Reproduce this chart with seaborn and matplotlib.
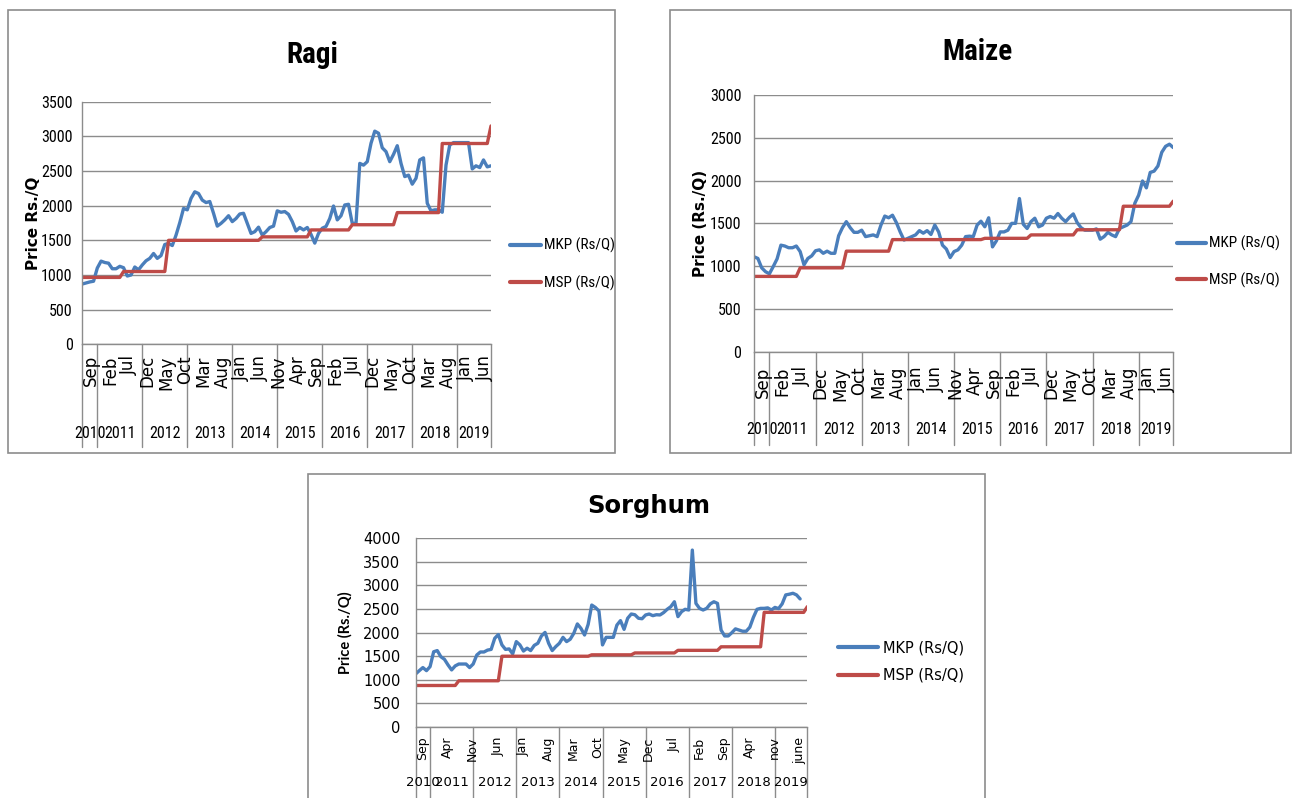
import matplotlib

matplotlib.use("Agg")
import matplotlib.pyplot as plt
import numpy as np
import pandas as pd
import seaborn as sns
from matplotlib.patches import Rectangle

# monthly series, Sep 2010 onwards (110 months)
months = pd.date_range("2010-09-01", periods=110, freq="MS")
years = ["2010", "2011", "2012", "2013", "2014", "2015", "2016", "2017", "2018", "2019"]
series_names = ["MKP (Rs/Q)", "MSP (Rs/Q)"]

ragi_mkp = [
    870, 885, 900, 910, 1100, 1200, 1180, 1170, 1090, 1090,
    1125, 1105, 985, 1000, 1115, 1075, 1145, 1205, 1240, 1310,
    1240, 1280, 1440, 1455, 1425, 1575, 1755, 1960, 1940, 2105,
    2200, 2175, 2080, 2045, 2060, 1890, 1705, 1745, 1795, 1855,
    1770, 1815, 1880, 1890, 1745, 1600, 1625, 1690, 1575, 1625,
    1685, 1705, 1925, 1905, 1915, 1875, 1770, 1635, 1685, 1650,
    1685, 1585, 1460, 1600, 1675, 1700, 1815, 1995, 1795, 1855,
    2010, 2020, 1745, 1745, 2610, 2585, 2635, 2900, 3075, 3045,
    2835, 2780, 2635, 2740, 2865, 2610, 2420, 2440, 2310, 2395,
    2660, 2690, 2035, 1925, 1940, 1940, 1905, 2585, 2875, 2910,
    2910, 2910, 2910, 2910, 2530, 2575, 2550, 2660, 2560, 2575,
]
ragi_msp = [
    965, 965, 965, 965, 965, 965, 965, 965, 965, 965,
    965, 1050, 1050, 1050, 1050, 1050, 1050, 1050, 1050, 1050,
    1050, 1050, 1050, 1500, 1500, 1500, 1500, 1500, 1500, 1500,
    1500, 1500, 1500, 1500, 1500, 1500, 1500, 1500, 1500, 1500,
    1500, 1500, 1500, 1500, 1500, 1500, 1500, 1500, 1550, 1550,
    1550, 1550, 1550, 1550, 1550, 1550, 1550, 1550, 1550, 1550,
    1550, 1650, 1650, 1650, 1650, 1650, 1650, 1650, 1650, 1650,
    1650, 1650, 1725, 1725, 1725, 1725, 1725, 1725, 1725, 1725,
    1725, 1725, 1725, 1725, 1900, 1900, 1900, 1900, 1900, 1900,
    1900, 1900, 1900, 1900, 1900, 1900, 2897, 2897, 2897, 2897,
    2897, 2897, 2897, 2897, 2897, 2897, 2897, 2897, 2897, 3150,
]

maize_mkp = [
    1110, 1090, 980, 935, 910, 995, 1085, 1245, 1235, 1215,
    1215, 1235, 1170, 1015, 1090, 1120, 1180, 1190, 1150, 1175,
    1150, 1150, 1355, 1450, 1520, 1450, 1395, 1395, 1420, 1345,
    1355, 1365, 1345, 1480, 1585, 1565, 1595, 1510, 1400, 1305,
    1325, 1345, 1365, 1415, 1385, 1415, 1370, 1480, 1400, 1245,
    1200, 1100, 1170, 1190, 1245, 1345, 1350, 1345, 1480, 1525,
    1460, 1565, 1225, 1295, 1400, 1400, 1420, 1500, 1500, 1790,
    1490, 1440, 1520, 1560, 1460, 1480, 1560, 1580, 1560, 1615,
    1560, 1520, 1570, 1610, 1510, 1450, 1420, 1420, 1420, 1435,
    1315, 1345, 1395, 1365, 1345, 1440, 1460, 1480, 1520, 1735,
    1830, 1995, 1915, 2095, 2110, 2170, 2330, 2400, 2425, 2385,
]
maize_msp = [
    880, 880, 880, 880, 880, 880, 880, 880, 880, 880,
    880, 880, 980, 980, 980, 980, 980, 980, 980, 980,
    980, 980, 980, 980, 1175, 1175, 1175, 1175, 1175, 1175,
    1175, 1175, 1175, 1175, 1175, 1175, 1310, 1310, 1310, 1310,
    1310, 1310, 1310, 1310, 1310, 1310, 1310, 1310, 1310, 1310,
    1310, 1310, 1310, 1310, 1310, 1310, 1310, 1310, 1310, 1310,
    1325, 1325, 1325, 1325, 1325, 1325, 1325, 1325, 1325, 1325,
    1325, 1325, 1365, 1365, 1365, 1365, 1365, 1365, 1365, 1365,
    1365, 1365, 1365, 1365, 1425, 1425, 1425, 1425, 1425, 1425,
    1425, 1425, 1425, 1425, 1425, 1425, 1700, 1700, 1700, 1700,
    1700, 1700, 1700, 1700, 1700, 1700, 1700, 1700, 1700, 1760,
]

sorghum_mkp = [
    1125, 1195, 1260, 1195, 1280, 1595, 1620, 1490, 1435, 1315,
    1210, 1295, 1335, 1335, 1335, 1260, 1335, 1525, 1590, 1590,
    1630, 1645, 1880, 1960, 1740, 1645, 1655, 1550, 1810, 1740,
    1610, 1670, 1620, 1730, 1775, 1930, 2005, 1775, 1620, 1705,
    1775, 1900, 1810, 1860, 1985, 2185, 2090, 1950, 2175, 2585,
    2535, 2460, 1740, 1900, 1900, 1900, 2160, 2255, 2070, 2305,
    2395, 2380, 2305, 2295, 2375, 2395, 2360, 2380, 2375, 2425,
    2495, 2550, 2655, 2340, 2445, 2495, 2480, 3750, 2620, 2515,
    2480, 2515, 2610, 2655, 2620, 2055, 1930, 1930, 2000, 2080,
    2055, 2030, 2030, 2115, 2325, 2495, 2515, 2515, 2525, 2480,
    2535, 2510, 2610, 2800, 2815, 2835, 2800, 2715, np.nan, np.nan,
]
sorghum_msp = [
    880, 880, 880, 880, 880, 880, 880, 880, 880, 880,
    880, 880, 980, 980, 980, 980, 980, 980, 980, 980,
    980, 980, 980, 980, 1500, 1500, 1500, 1500, 1500, 1500,
    1500, 1500, 1500, 1500, 1500, 1500, 1500, 1500, 1500, 1500,
    1500, 1500, 1500, 1500, 1500, 1500, 1500, 1500, 1500, 1530,
    1530, 1530, 1530, 1530, 1530, 1530, 1530, 1530, 1530, 1530,
    1530, 1570, 1570, 1570, 1570, 1570, 1570, 1570, 1570, 1570,
    1570, 1570, 1570, 1625, 1625, 1625, 1625, 1625, 1625, 1625,
    1625, 1625, 1625, 1625, 1625, 1700, 1700, 1700, 1700, 1700,
    1700, 1700, 1700, 1700, 1700, 1700, 1700, 2430, 2430, 2430,
    2430, 2430, 2430, 2430, 2430, 2430, 2430, 2430, 2430, 2550,
]

ragi_months = ["Sep", "Feb", "Jul", "Dec", "May", "Oct", "Mar", "Aug", "Jan", "Jun", "Nov",
               "Apr", "Sep", "Feb", "Jul", "Dec", "May", "Oct", "Mar", "Aug", "Jan", "Jun"]
maize_months = ragi_months
sorghum_months = ["Sep", "Apr", "Nov", "Jun", "Jan", "Aug", "Mar", "Oct", "May", "Dec",
                  "Jul", "Feb", "Sep", "Apr", "nov", "june"]

W, H = 1295, 798
BLUE = "#4A7EBB"
RED = "#BE4B48"
GRID = "#8C8C8C"
NARROW = ["Roboto Condensed", "Lato", "DejaVu Sans"]
PLAIN = ["DejaVu Sans"]


def fx(x):
    return x / W


def fy(y):
    return 1 - y / H


def draw_panel(fig, p):
    x0, y0, x1, y1 = p["axes_px"]
    ax = fig.add_axes([fx(x0), fy(y1), (x1 - x0) / W, (y1 - y0) / H])
    n = len(p["mkp"])
    wide = pd.DataFrame({"idx": np.arange(n), series_names[0]: p["mkp"], series_names[1]: p["msp"]})
    long = wide.melt(id_vars="idx", var_name="series", value_name="price").dropna()
    sns.lineplot(data=long, x="idx", y="price", hue="series", hue_order=series_names,
                 palette={series_names[0]: BLUE, series_names[1]: RED},
                 estimator=None, linewidth=2.4, ax=ax)

    ax.set_xlim(0, n - 1)
    ax.set_ylim(0, p["ymax"])
    ax.set_yticks(np.arange(0, p["ymax"] + 1, 500))
    ax.yaxis.grid(True, color=GRID, linewidth=1.0)
    ax.xaxis.grid(False)
    ax.set_axisbelow(True)
    ax.set_xticks([])
    ax.set_xlabel("")
    for s in ["top", "right"]:
        ax.spines[s].set_visible(False)
    for s in ["left", "bottom"]:
        ax.spines[s].set_color(GRID)
        ax.spines[s].set_linewidth(1.0)
    ax.tick_params(axis="y", length=0, pad=p["tick_pad"], labelsize=p["tick_size"])
    for t in ax.get_yticklabels():
        t.set_fontfamily(p["tick_font"])

    ax.set_ylabel(p["ylabel"], fontsize=p["ylabel_size"], fontweight="bold",
                  family=p["ylabel_font"])
    ax.yaxis.set_label_coords(p["ylabel_x"], 0.5)

    # two-level category axis: months and years
    trans = ax.get_xaxis_transform()
    for k, lab in enumerate(p["months"]):
        ax.text(k * p["step"], p["month_y"], lab, rotation=90, ha="left", va="top",
                transform=trans, fontsize=p["month_size"], family=PLAIN)
    jan = np.flatnonzero(months[:n].month == 1)
    edges = np.concatenate([[0], jan, [n - 1]])
    for e in edges:
        ax.plot([e, e], [0, p["sep_y"]], transform=trans, color=GRID, lw=1.0, clip_on=False)
    for yr, a, b in zip(years, edges[:-1], edges[1:]):
        ax.text((a + b) / 2, p["year_y"], yr, ha="center", va="center", transform=trans,
                fontsize=p["year_size"], family=p["year_font"])

    lx, ly = p["legend_px"]
    sns.move_legend(ax, "center left", bbox_to_anchor=(fx(lx), fy(ly)),
                    bbox_transform=fig.transFigure, title=None, frameon=False,
                    borderpad=0, borderaxespad=0, handlelength=p["handle_len"],
                    handletextpad=p["handle_pad"], labelspacing=p["label_space"],
                    prop={"family": p["legend_font"], "size": p["legend_size"]})
    for line in ax.get_legend().get_lines():
        line.set_linewidth(3.0)

    fl, ft, fr, fb = p["frame_px"]
    fig.add_artist(Rectangle((fx(fl), fy(fb)), (fr - fl) / W, (fb - ft) / H,
                             transform=fig.transFigure, fill=False, edgecolor=GRID, lw=1.2))
    tx, ty = p["title_px"]
    fig.text(fx(tx), fy(ty), p["title"], ha="center", va="baseline", fontsize=p["title_size"],
             fontweight="bold", family=p["title_font"])


panels = [
    dict(title="Ragi", mkp=ragi_mkp, msp=ragi_msp, months=ragi_months, step=5, ymax=3500,
         ylabel="Price Rs./Q", axes_px=(82.3, 101.7, 491, 344.3), frame_px=(8, 10, 615, 453),
         title_px=(312, 63), title_size=21, title_font=NARROW,
         tick_font=NARROW, tick_size=11.5, tick_pad=7,
         ylabel_font=PLAIN, ylabel_size=11, ylabel_x=-0.101,
         month_y=-0.045, month_size=12, sep_y=-0.424, year_y=-0.366,
         year_font=NARROW, year_size=11.5,
         legend_px=(510, 264.5), legend_font=NARROW, legend_size=11,
         handle_len=2.0, handle_pad=0.2, label_space=1.45),
    dict(title="Maize", mkp=maize_mkp, msp=maize_msp, months=maize_months, step=5, ymax=3000,
         ylabel="Price (Rs./Q)", axes_px=(754, 95, 1173.3, 351.7), frame_px=(670, 10, 1291, 453),
         title_px=(978, 60), title_size=21, title_font=NARROW,
         tick_font=NARROW, tick_size=11.5, tick_pad=9,
         ylabel_font=PLAIN, ylabel_size=11, ylabel_x=-0.11,
         month_y=-0.057, month_size=12, sep_y=-0.362, year_y=-0.303,
         year_font=NARROW, year_size=11.5,
         legend_px=(1177, 262), legend_font=NARROW, legend_size=11,
         handle_len=1.9, handle_pad=0.2, label_space=1.4),
    dict(title="Sorghum", mkp=sorghum_mkp, msp=sorghum_msp, months=sorghum_months, step=7,
         ymax=4000, ylabel="Price (Rs./Q)", axes_px=(415.7, 538.3, 807.3, 727),
         frame_px=(308, 474, 985, 806),
         title_px=(649, 513), title_size=17.5, title_font=PLAIN,
         tick_font=PLAIN, tick_size=10.5, tick_pad=11,
         ylabel_font=["Lato", "DejaVu Sans"], ylabel_size=10.5, ylabel_x=-0.16,
         month_y=-0.051, month_size=9, sep_y=-0.39, year_y=-0.296,
         year_font=PLAIN, year_size=9.5,
         legend_px=(838, 661.5), legend_font=PLAIN, legend_size=10.5,
         handle_len=2.75, handle_pad=0.35, label_space=0.85),
]

sns.set_style("white")
plt.rcParams.update({"text.color": "black", "axes.labelcolor": "black",
                     "xtick.color": "black", "ytick.color": "black"})
fig = plt.figure(figsize=(W / 100, H / 100), dpi=100)
for p in panels:
    draw_panel(fig, p)
fig.savefig("out.png", dpi=100, facecolor="white")
